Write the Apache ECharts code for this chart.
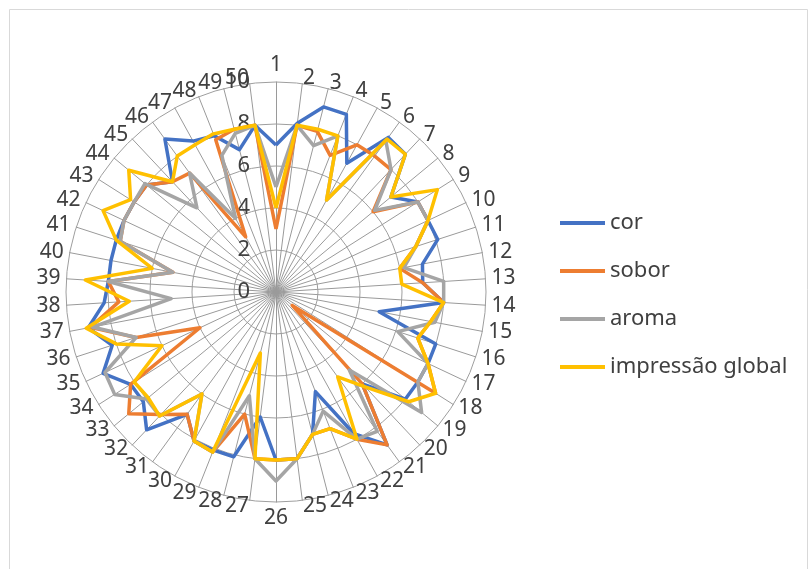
<!DOCTYPE html>
<html>
<head>
<meta charset="utf-8">
<script src="https://cdn.jsdelivr.net/npm/echarts@6/dist/echarts.min.js"></script>
<style>
  html, body { margin: 0; padding: 0; background: #fff; }
  #radar { width: 811px; height: 569px; }
</style>
</head>
<body>
<div id="radar"></div>
<script>
  var categories = ['1', '2', '3', '4', '5', '6', '7', '8', '9', '10',
    '11', '12', '13', '14', '15', '16', '17', '18', '19', '20',
    '21', '22', '23', '24', '25', '26', '27', '28', '29', '30',
    '31', '32', '33', '34', '35', '36', '37', '38', '39', '40',
    '41', '42', '43', '44', '45', '46', '47', '48', '49', '50'];

  var cor = [7, 8.1, 9.1, 9.1, 7, 9.1, 9, 7.1, 8, 8,
    8.1, 7.1, 7, 8, 5, 8, 8, 8, 8, 6,
    9, 7.7, 5.1, 7, 8, 8, 6, 8.1, 8.1, 8.1,
    7.2, 9, 8.2, 8.2, 9.1, 8.2, 9.1, 8.2, 8, 8,
    8, 8, 8, 8, 7.2, 9, 8.2, 8, 7, 8];

  var sobor = [3, 8, 7.9, 7, 8, 8, 8, 6, 8, 8,
    7, 6, 7, 8, 7.5, 7.1, 8, 9, 1, 6,
    9, 8, 7, 7, 8, 8, 8, 6, 8.2, 8.1,
    7.2, 8, 9.1, 8.2, 4, 7, 9, 7.5, 8, 5,
    7.8, 8, 8, 8, 7.2, 7, 3, 7.8, 8, 8];

  var aroma = [5, 8, 7.2, 8, 5, 8.9, 8, 6.1, 8, 8,
    7, 6.2, 8, 8, 7.7, 6.1, 8, 8, 9, 5.1,
    8.2, 8, 6.1, 7, 8, 9, 8, 5.1, 8.2, 8.1,
    6, 8.1, 8, 9.1, 9, 7, 8.9, 5, 8, 5,
    7.8, 8, 8, 8.1, 5.5, 7, 4, 7, 7.8, 8];

  var impressao = [4, 8, 8, 8, 5, 9, 9, 7.1, 9.1, 8,
    7, 6, 6, 8, 7.5, 7.1, 8, 9, 8.2, 6.2,
    5, 8, 7, 7, 8, 8, 8, 3, 8.2, 8.1,
    6, 8.1, 7.9, 8, 6, 8, 9.2, 7, 9.1, 6,
    8, 9.1, 8.2, 9.1, 7.2, 8, 8, 8.1, 8, 8];

  var seriesNames = ['cor', 'sobor', 'aroma', 'impressão global'];
  var seriesColors = ['#4472C4', '#ED7D31', '#A5A5A5', '#FFC000'];
  var seriesValues = [cor, sobor, aroma, impressao];

  // echarts radar runs counter-clockwise, Excel runs clockwise: keep 1 at top, then reverse the rest
  var order = [0];
  for (var k = categories.length - 1; k > 0; k--) order.push(k);

  var font = 'Noto Sans';
  var myChart = echarts.init(document.getElementById('radar'));

  var option = {
    animation: false,
    graphic: [{
      type: 'rect',
      shape: { x: 9.5, y: 9.5, width: 798, height: 580 },
      style: { fill: 'none', stroke: '#d9d9d9', lineWidth: 1 },
      silent: true
    }],
    legend: {
      orient: 'vertical',
      left: 555,
      top: 207,
      icon: 'rect',
      itemWidth: 45,
      itemHeight: 4,
      itemGap: 26,
      data: seriesNames,
      textStyle: { color: '#404040', fontSize: 22, fontFamily: font }
    },
    radar: {
      center: [276, 292],
      radius: 210,
      startAngle: 90,
      splitNumber: 5,
      shape: 'circle',
      nameGap: 6,
      indicator: order.map(function (i) {
        var ind = { name: categories[i], min: 0, max: 10 };
        if (i === 0) ind.axisLabel = { show: true };
        return ind;
      }),
      axisName: { color: '#404040', fontSize: 21, fontFamily: font },
      splitLine: { lineStyle: { color: '#9e9e9e', width: 1 } },
      splitArea: { show: false },
      axisLine: { lineStyle: { color: '#9a9a9a', width: 1 } },
      axisTick: { show: false },
      axisLabel: { show: false, color: '#404040', fontSize: 22, fontFamily: font, margin: 26 }
    },
    series: seriesNames.map(function (name, s) {
      return {
        name: name,
        type: 'radar',
        symbol: 'none',
        itemStyle: { color: seriesColors[s] },
        lineStyle: { color: seriesColors[s], width: 3.5 },
        data: [{
          name: name,
          value: order.map(function (i) { return seriesValues[s][i]; })
        }]
      };
    })
  };

  myChart.setOption(option);
</script>
</body>
</html>
